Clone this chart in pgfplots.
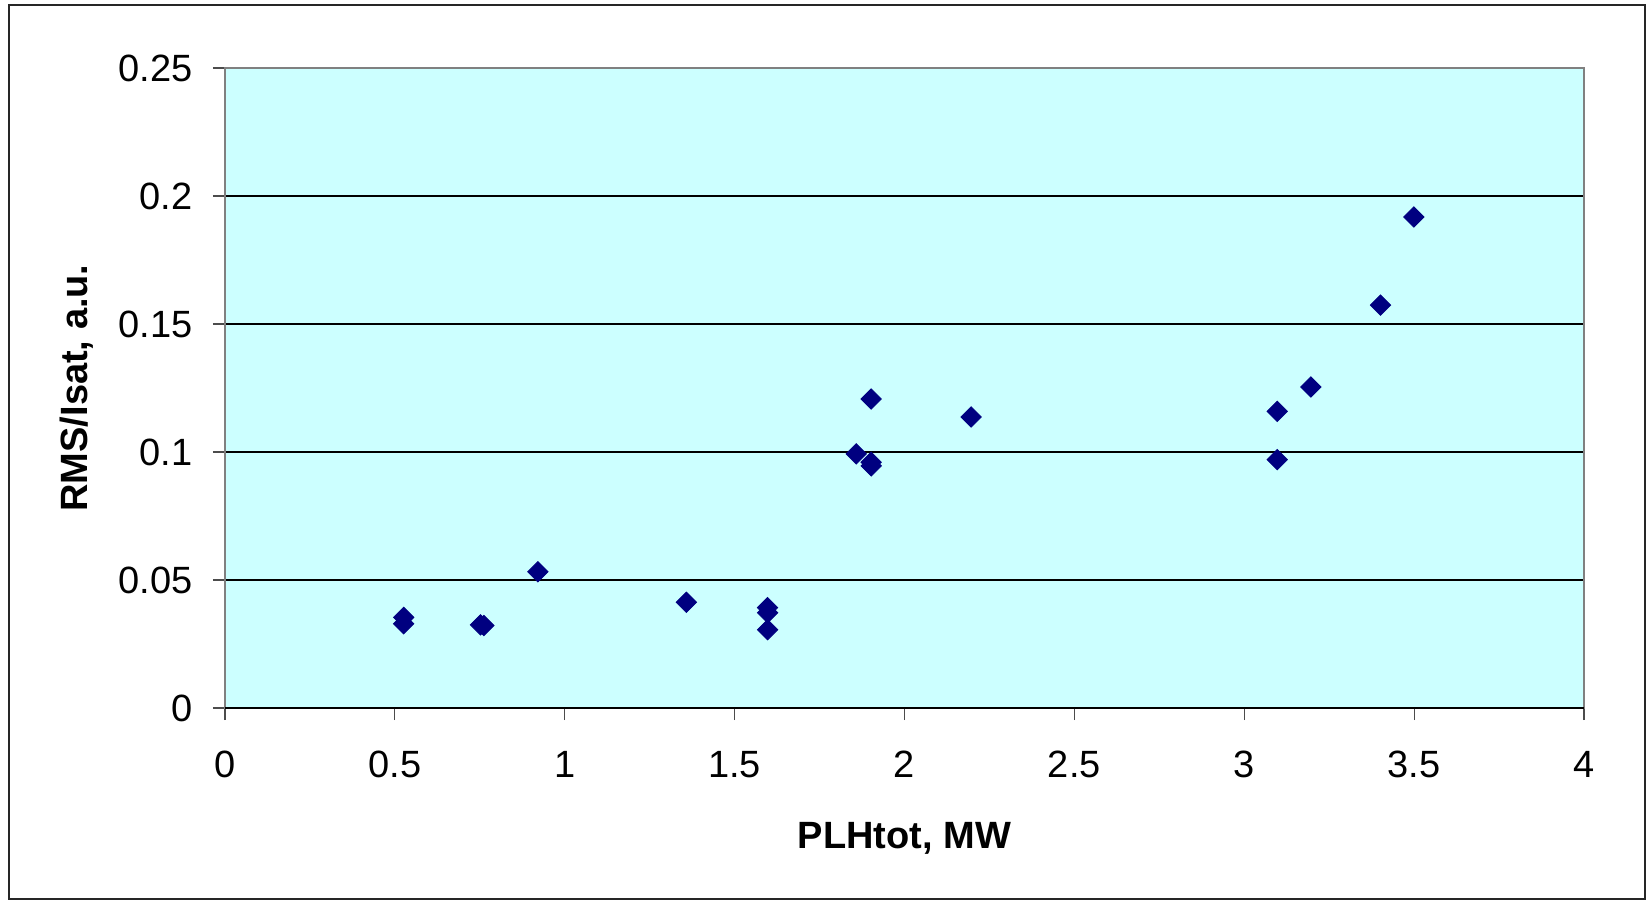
\documentclass[border=0pt]{standalone}
\usepackage{pgfplots}
\pgfplotsset{compat=1.18}
\usepackage{fontspec}
\setmainfont{Liberation Sans}
\definecolor{plotbg}{HTML}{CCFFFF}
\definecolor{navy}{HTML}{000080}
\begin{document}
\begin{tikzpicture}
\path[use as bounding box] (-112.5pt,-96.5pt) rectangle (711pt,354pt);
\draw[black!85, line width=0.8pt] (-108pt,-95.5pt) rectangle (710pt,351.5pt);
\begin{axis}[
  scale only axis,
  width=679.5pt, height=320pt,
  xmin=0, xmax=4, ymin=0, ymax=0.25,
  xtick={0,0.5,...,4}, ytick={0,0.05,...,0.25},
  xticklabels={0,0.5,1,1.5,2,2.5,3,3.5,4},
  yticklabels={0,0.05,0.1,0.15,0.2,0.25},
  axis background/.style={fill=plotbg},
  axis line style={draw=gray, line width=0.8pt},
  tick align=outside,
  major tick length=6pt,
  tick style={black!70, line width=0.6pt},
  xtick pos=bottom, ytick pos=left,
  ymajorgrids,
  grid style={black, line width=0.6pt},
  ticklabel style={font=\fontsize{19}{22}\selectfont},
  xticklabel style={anchor=base, inner sep=0pt, yshift=-28.5pt},
  yticklabel style={anchor=east, inner sep=0pt, xshift=-10pt},
  /pgf/number format/assume math mode=true,
  clip=false,
]
\addplot[only marks, mark=square*, mark size=3.6pt, mark options={rotate=45, fill=navy, draw=navy}]
table {
x y
0.526 0.0354
0.526 0.0329
0.752 0.0325
0.762 0.0322
0.921 0.0532
1.358 0.0413
1.597 0.0392
1.597 0.0372
1.597 0.0306
1.858 0.0993
1.902 0.1207
1.902 0.0960
1.902 0.0946
2.196 0.1137
3.097 0.1159
3.097 0.0970
3.196 0.1254
3.401 0.1574
3.499 0.1918
};
\draw[black, line width=0.9pt] (rel axis cs:0,0) -- (rel axis cs:1,0);
\end{axis}
\node[anchor=base, inner sep=0pt, font=\fontsize{19}{22}\selectfont\bfseries] at (339.75pt,-70.15pt) {PLHtot, MW};
\node[anchor=base, rotate=90, inner sep=0pt, font=\fontsize{19}{22}\selectfont\bfseries] at (-68.5pt,160pt) {RMS/Isat, a.u.};
\end{tikzpicture}
\end{document}
